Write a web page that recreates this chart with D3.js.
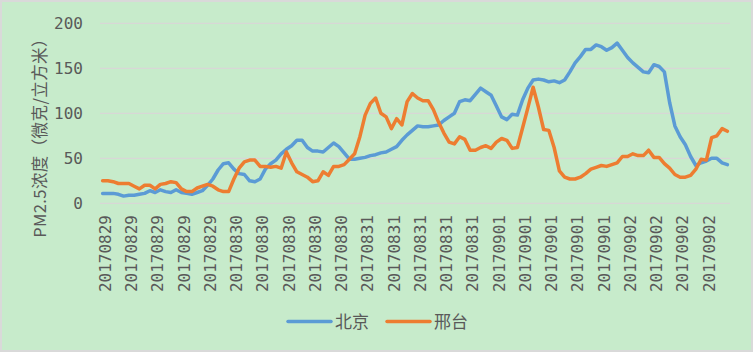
<!DOCTYPE html>
<html>
<head>
<meta charset="utf-8">
<script src="https://cdn.jsdelivr.net/npm/d3@7"></script>
<style>
  html, body { margin: 0; padding: 0; background: #fff; }
  svg { display: block; }
</style>
</head>
<body>
<div id="chart"></div>
<script>
// tick labels, one every 5 hourly points
const tickLabels = [
  "20170829", "20170829", "20170829", "20170829", "20170829",
  "20170830", "20170830", "20170830", "20170830", "20170830",
  "20170831", "20170831", "20170831", "20170831", "20170831",
  "20170901", "20170901", "20170901", "20170901", "20170901",
  "20170902", "20170902", "20170902", "20170902"
];
const tickStep = 5;

const seriesNames = ["北京", "邢台"];

// 北京 PM2.5 hourly
const beijing = [
  11, 11, 11, 10, 8, 9, 9, 10, 11, 14,
  12, 15, 13, 12, 15, 12, 11, 10, 12, 14,
  20, 27, 37, 44, 45, 38, 33, 32, 25, 24,
  27, 38, 44, 48, 55, 60, 64, 70, 70, 62,
  58, 58, 57, 62, 67, 63, 56, 49, 49, 50,
  51, 53, 54, 56, 57, 60, 63, 70, 76, 81,
  86, 85, 85, 86, 87, 92, 96, 100, 113, 115,
  114, 121, 128, 124, 120, 108, 96, 93, 99, 98,
  115, 128, 137, 138, 137, 135, 136, 134, 137, 146,
  156, 163, 171, 171, 176, 174, 170, 173, 178, 170,
  162, 156, 151, 146, 145, 154, 152, 146, 112, 86,
  74, 65, 52, 42, 45, 47, 50, 50, 45, 43
];

// 邢台 PM2.5 hourly
const xingtai = [
  25, 25, 24, 22, 22, 22, 19, 16, 20, 20,
  16, 21, 22, 24, 23, 16, 13, 13, 17, 19,
  21, 19, 15, 13, 13, 27, 39, 46, 48, 48,
  41, 41, 40, 41, 39, 57, 45, 35, 32, 29,
  24, 25, 35, 31, 41, 41, 43, 49, 55, 74,
  98, 111, 117, 100, 96, 83, 94, 87, 113, 122,
  117, 114, 114, 104, 90, 78, 68, 66, 74, 71,
  59, 59, 62, 64, 61, 68, 72, 70, 61, 62,
  84, 106, 129, 107, 82, 81, 62, 36, 29, 27,
  27, 29, 33, 38, 40, 42, 41, 43, 45, 52,
  52, 55, 53, 53, 59, 51, 51, 44, 39, 32,
  29, 29, 31, 38, 49, 48, 73, 75, 83, 80
];

const yTicks = [0, 50, 100, 150, 200];

const width = 753, height = 352;
const margin = { left: 100, right: 23, top: 23.3, bottom: 148.7 };
const colors = ["#5b9bd5", "#ed7d31"];
const textColor = "#595959";
const monoFont = "'DejaVu Sans Mono', monospace";
const cjkFont = "'Noto Sans CJK SC', sans-serif";

const svg = d3.select("#chart").append("svg")
  .attr("width", width)
  .attr("height", height);

// fondo y borde
svg.append("rect")
  .attr("x", 1).attr("y", 1)
  .attr("width", width - 2).attr("height", height - 2)
  .attr("fill", "#c7ebcb")
  .attr("stroke", "#d9d9d9")
  .attr("stroke-width", 2);

const x = d3.scaleBand()
  .domain(d3.range(beijing.length))
  .range([margin.left, width - margin.right])
  .padding(0);

const y = d3.scaleLinear()
  .domain([0, 200])
  .range([height - margin.bottom, margin.top]);

const cx = i => x(i) + x.bandwidth() / 2;

// gridlines
svg.append("g")
  .selectAll("line")
  .data(yTicks)
  .enter().append("line")
  .attr("x1", margin.left)
  .attr("x2", width - margin.right)
  .attr("y1", d => y(d))
  .attr("y2", d => y(d))
  .attr("stroke", "#dcd3d9")
  .attr("stroke-width", 1);

// y tick labels
svg.append("g")
  .selectAll("text")
  .data(yTicks)
  .enter().append("text")
  .attr("x", 83)
  .attr("y", d => y(d))
  .attr("dy", "0.36em")
  .attr("text-anchor", "end")
  .style("font-family", monoFont)
  .style("font-size", "16px")
  .style("fill", textColor)
  .text(d => d);

// y axis title
svg.append("text")
  .attr("transform", "translate(46,134) rotate(-90)")
  .attr("text-anchor", "middle")
  .style("font-family", cjkFont)
  .style("font-size", "16.5px")
  .style("letter-spacing", "0.4px")
  .style("fill", textColor)
  .text("PM2.5浓度（微克/立方米）");

// x tick labels
svg.append("g")
  .selectAll("text")
  .data(tickLabels)
  .enter().append("text")
  .attr("transform", (d, i) => `translate(${cx(i * tickStep) + 2.5},215) rotate(-90)`)
  .attr("text-anchor", "end")
  .attr("dy", "0.36em")
  .style("font-family", monoFont)
  .style("font-size", "16px")
  .style("fill", textColor)
  .text(d => d);

// lines
const line = d3.line()
  .x((d, i) => cx(i))
  .y(d => y(d));

[beijing, xingtai].forEach((values, k) => {
  svg.append("path")
    .datum(values)
    .attr("fill", "none")
    .attr("stroke", colors[k])
    .attr("stroke-width", 3.5)
    .attr("stroke-linejoin", "round")
    .attr("stroke-linecap", "round")
    .attr("d", line);
});

// legend
const legendX = [288, 387];
const legend = svg.append("g")
  .selectAll("g")
  .data(seriesNames)
  .enter().append("g")
  .attr("transform", (d, i) => `translate(${legendX[i]},321.5)`);

legend.append("line")
  .attr("x1", 0).attr("x2", 43)
  .attr("stroke", (d, i) => colors[i])
  .attr("stroke-width", 3.5)
  .attr("stroke-linecap", "round");

legend.append("text")
  .attr("x", 47)
  .attr("dy", "0.36em")
  .style("font-family", cjkFont)
  .style("font-size", "17px")
  .style("fill", textColor)
  .text(d => d);
</script>
</body>
</html>
